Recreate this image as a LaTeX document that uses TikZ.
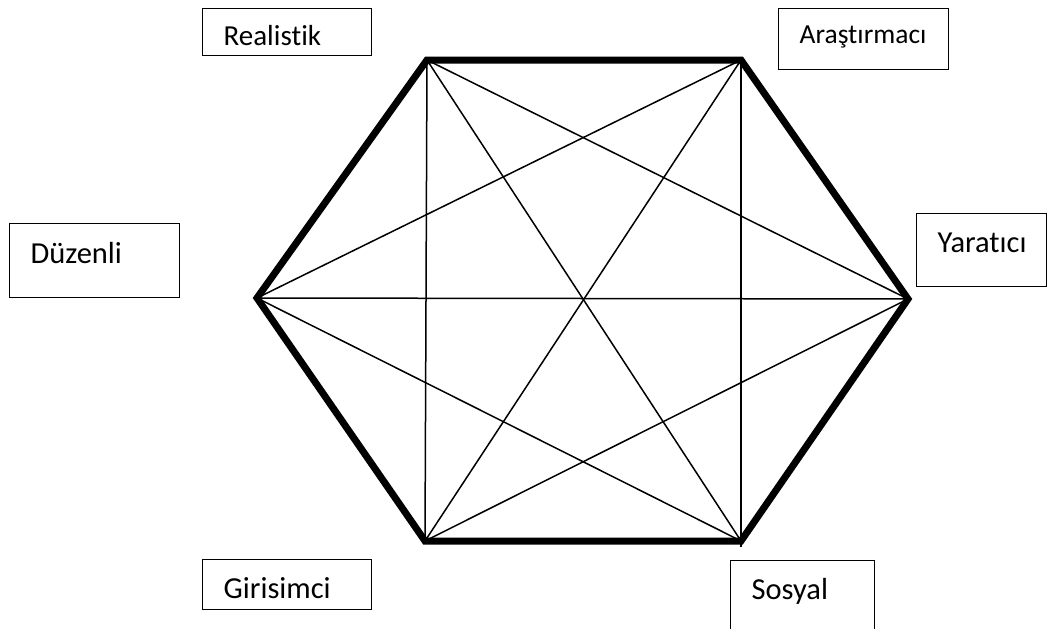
\documentclass[tikz,border=0pt]{standalone}
\usepackage{fontspec}
\setmainfont{Carlito}[Ligatures=NoCommon]
\begin{document}
\begin{tikzpicture}[x=1pt, y=-1pt,
  tag/.style={draw, line width=1.3pt, inner xsep=21pt, inner ysep=0pt, align=left, anchor=north west, font=\fontsize{30.5}{34}\selectfont},
  rim/.style={line width=7pt, line join=miter},
  chord/.style={line width=1.5pt}]
\path[use as bounding box, clip] (0,0) rectangle (1053,629);

\coordinate (tl) at (427,60);
\coordinate (tr) at (741,60);
\coordinate (r) at (908,299);
\coordinate (br) at (741,541);
\coordinate (bl) at (425,541);
\coordinate (l) at (257,298);

\node[tag, text width=127pt, text height=37pt, text depth=10pt, font=\fontsize{29}{33}\selectfont] (realistik) at (202,8) {Realistik};
\node[tag, text width=128pt, text height=35pt, text depth=26pt, font=\fontsize{27.5}{31}\selectfont] (arastirmaci) at (778,8) {Araştırmacı};
\node[tag, text width=128pt, text height=40pt, text depth=34pt] (duzenli) at (9,223) {Düzenli};
\node[tag, text width=88pt, text height=39pt, text depth=34pt] (yaratici) at (916,213) {Yaratıcı};
\node[tag, text width=127pt, text height=39pt, text depth=11pt] (girisimci) at (202,559) {Girisimci};
\node[tag, text width=102pt, text height=39pt, text depth=41pt] (sosyal) at (730,560) {Sosyal};

\draw[chord] (tl) -- (bl);
\draw[chord] (tr) -- ([yshift=-6pt]br);
\draw[chord] (tl) -- (br);
\draw[chord] (tr) -- (bl);
\draw[chord] (tl) -- (r);
\draw[chord] (tr) -- (l);
\draw[chord] (l) -- (r);
\draw[chord] (l) -- (br);
\draw[chord] (r) -- (bl);

\draw[rim] (tl) -- (tr) -- (r) -- (br) -- (bl) -- (l) -- cycle;
\end{tikzpicture}
\end{document}
